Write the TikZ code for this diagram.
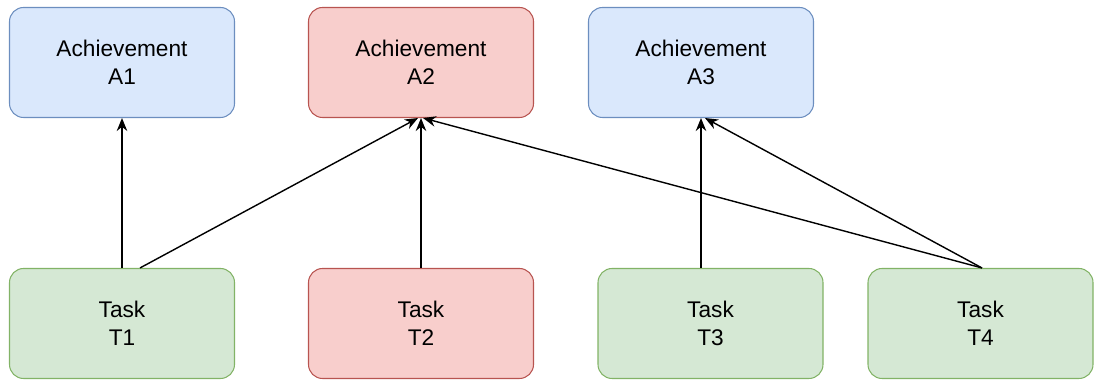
\documentclass[tikz,border=0pt]{standalone}
\usepackage{fontspec}
\setmainfont{Liberation Sans}
\usetikzlibrary{arrows.meta}
\definecolor{blufill}{HTML}{DAE8FC}
\definecolor{bluline}{HTML}{6C8EBF}
\definecolor{redfill}{HTML}{F8CECC}
\definecolor{redline}{HTML}{B85450}
\definecolor{grnfill}{HTML}{D5E8D4}
\definecolor{grnline}{HTML}{82B366}
\begin{document}
\begin{tikzpicture}[>=Stealth,
 box/.style={rounded corners=8pt,line width=0.6pt,minimum width=4.5cm,minimum height=2.2cm,align=center,inner sep=2pt,font=\fontsize{12.9}{16}\selectfont},
 ach/.style={box,draw=bluline,fill=blufill},
 achred/.style={box,draw=redline,fill=redfill},
 task/.style={box,draw=grnline,fill=grnfill},
 taskred/.style={box,draw=redline,fill=redfill},
 arr/.style={-{Stealth[length=2.6mm,width=2.1mm]},line width=0.8pt,black}]
\useasboundingbox (0,0) rectangle (21.88,7.6);

\node[ach] (a1) at (2.44,6.35) {Achievement\\A1};
\node[achred] (a2) at (8.42,6.35) {Achievement\\A2};
\node[ach] (a3) at (14.02,6.35) {Achievement\\A3};

\node[task] (t1) at (2.44,1.13) {Task\\T1};
\node[taskred] (t2) at (8.42,1.13) {Task\\T2};
\node[task] (t3) at (14.21,1.13) {Task\\T3};
\node[task] (t4) at (19.61,1.13) {Task\\T4};

\draw[arr] (t1.north) -- (a1.south);
\draw[arr] ([xshift=0.36cm]t1.north) -- ([xshift=-0.06cm]a2.south);
\draw[arr] (t2.north) -- (a2.south);
\draw[arr] (t3.north -| a3.south) -- (a3.south);
\draw[arr] ([xshift=0.03cm]t4.north) -- ([xshift=0.08cm]a3.south);
\draw[arr] ([xshift=0.03cm]t4.north) -- ([xshift=0.04cm]a2.south);
\end{tikzpicture}
\end{document}
